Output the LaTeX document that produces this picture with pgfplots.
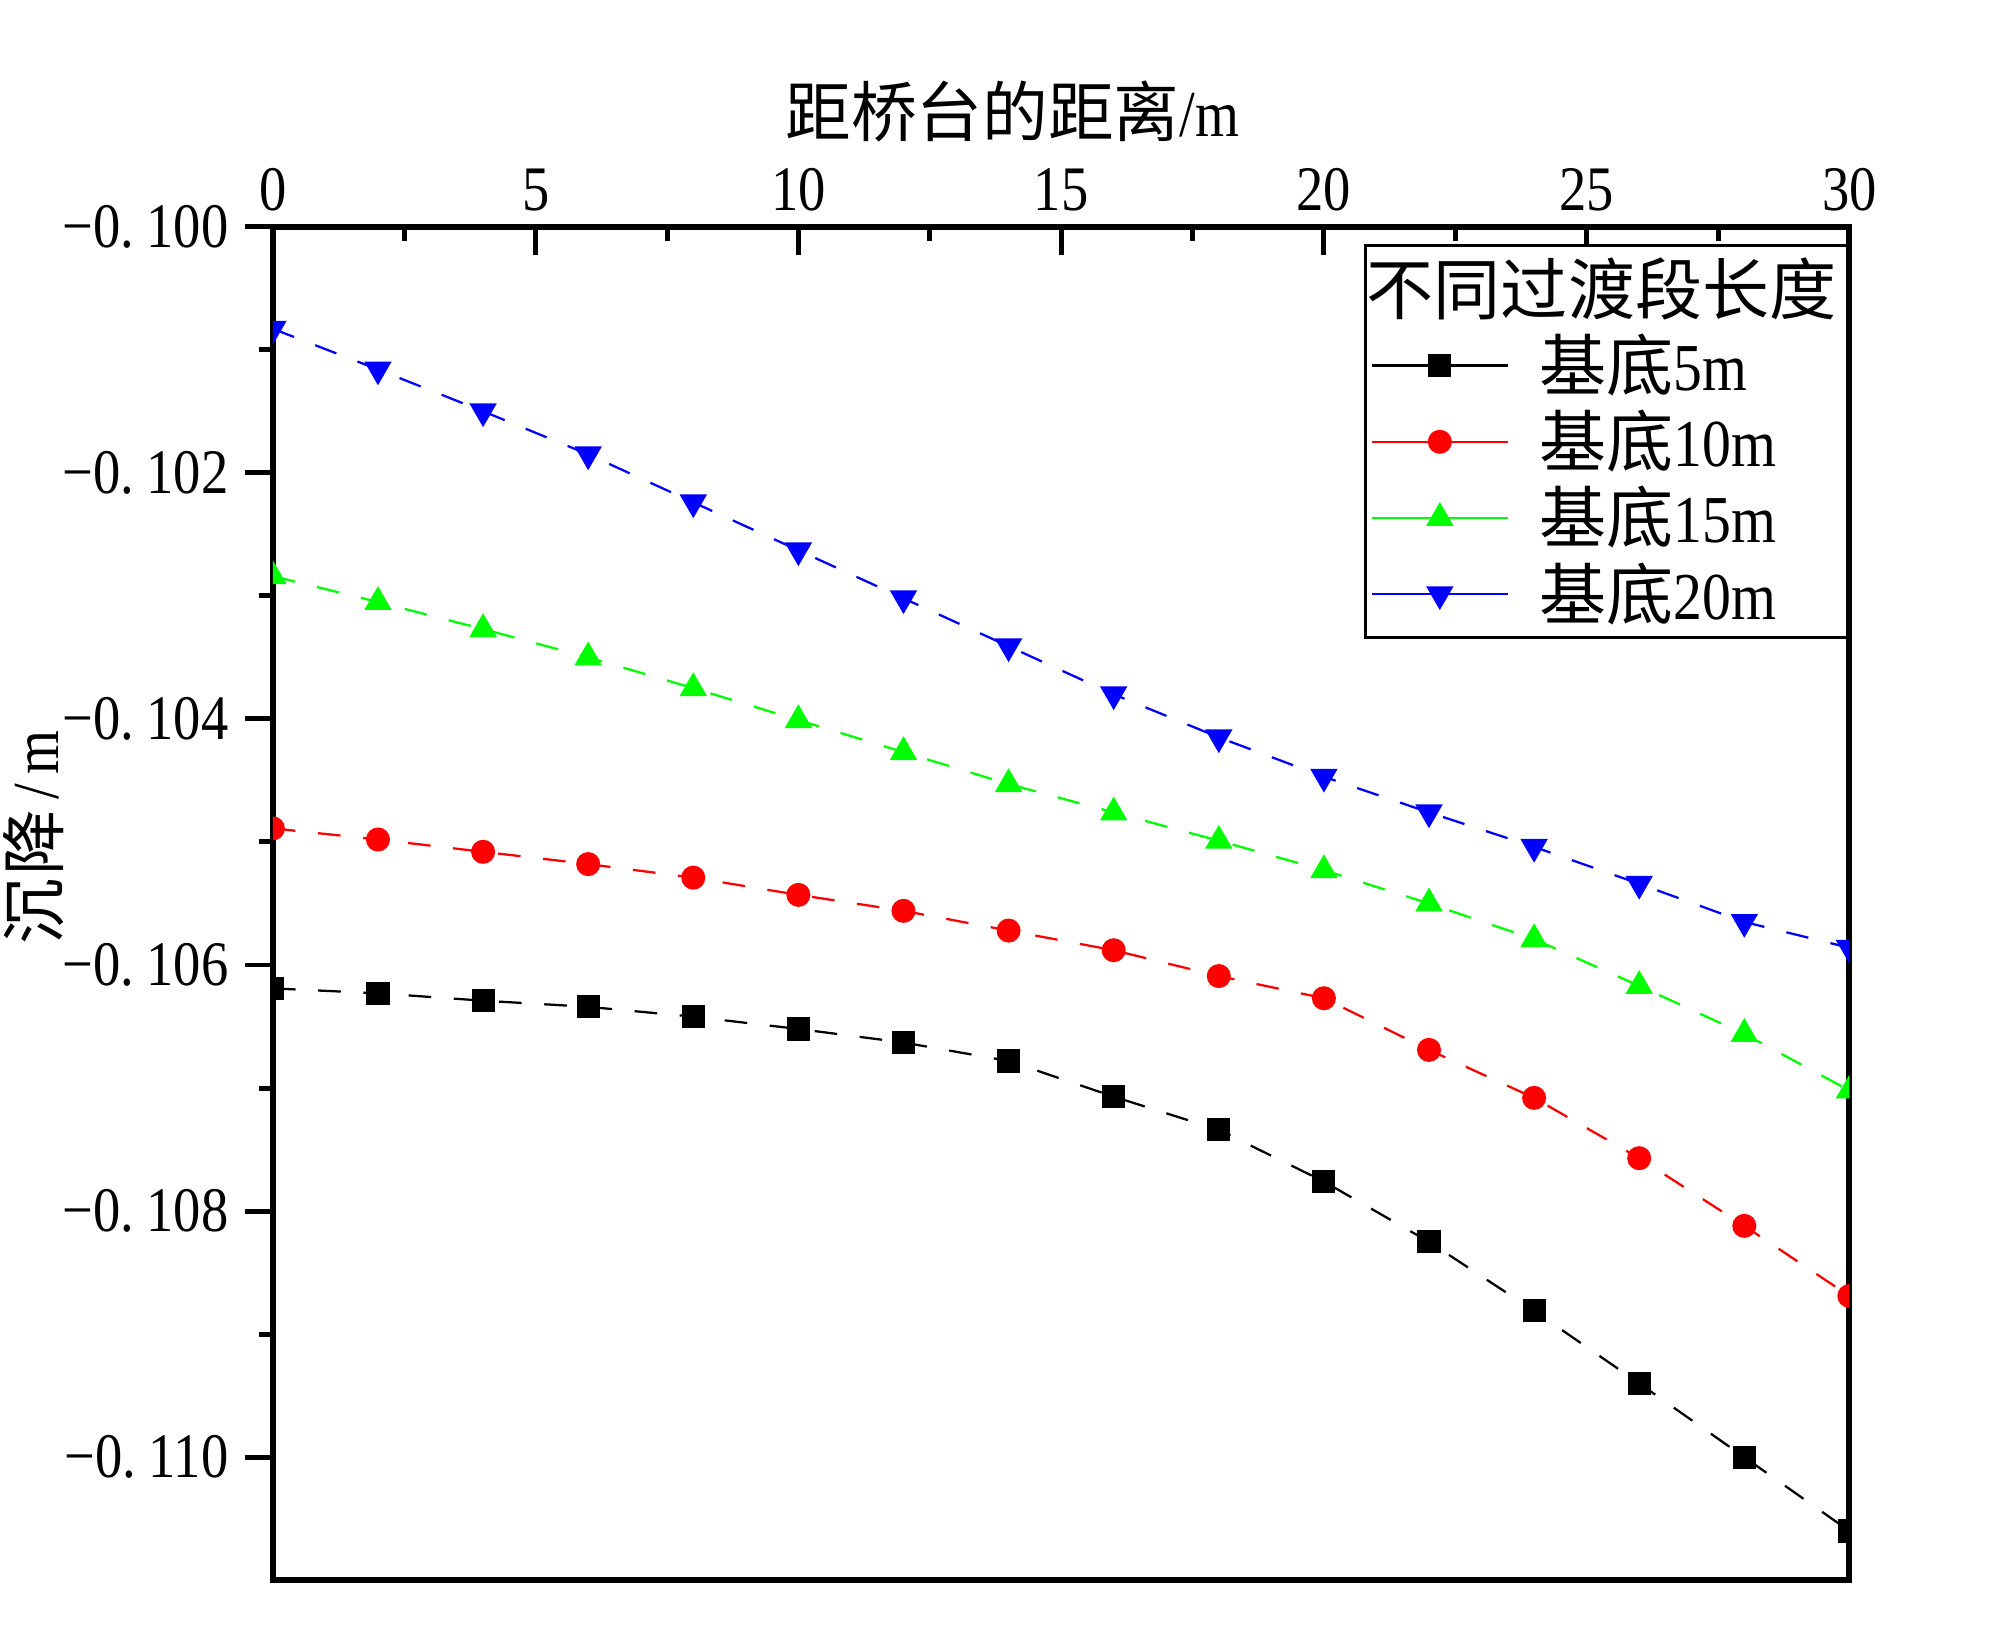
\documentclass[border=0pt]{standalone}
\usepackage{fontspec}
\setmainfont[FakeStretch=0.86]{Liberation Serif}
\newfontfamily\cjk{Noto Sans CJK SC}
\usepackage{pgfplots}
\pgfplotsset{compat=1.18}
\newcommand{\yl}[1]{−0.\hspace{0.2em}#1}
\begin{document}
\begin{tikzpicture}
\useasboundingbox (-2.117cm,-0.547cm) rectangle (13.398cm,12.259cm);
\begin{axis}[
  at={(0,0)}, anchor=south west,
  scale only axis, width=12.23cm, height=10.50cm,
  xmin=0, xmax=30, ymin=-0.111, ymax=-0.100,
  xtick={0,5,...,30}, minor x tick num=1,
  ytick={-0.110,-0.108,-0.106,-0.104,-0.102,-0.100},
  yticklabels={\yl{110},\yl{108},\yl{106},\yl{104},\yl{102},\yl{100}},
  minor y tick num=1,
  scaled y ticks=false,
  xtick pos=right, xticklabel pos=right, ytick pos=left,
  xtick align=inside, ytick align=outside,
  major tick length=0.22cm, minor tick length=0.11cm,
  axis line style={line width=1.3pt},
  tick style={line width=1.1pt, black},
  /pgf/number format/assume math mode=true,
  tick label style={font=\fontsize{14}{16}\selectfont},
  xlabel={{\cjk 距桥台的距离}/m},
  ylabel={{\cjk 沉\hspace{0.05em}降}\hspace{0.15em}/\hspace{0.15em}m},
  label style={font=\fontsize{14.5}{17}\selectfont},
  xlabel style={at={(axis description cs:0.469,1.085)}, anchor=center},
  ylabel style={at={(axis description cs:-0.152,0.549)}, anchor=center},
  clip marker paths=true,
  legend image code/.code={\draw[mark repeat=2,mark phase=2,#1,solid] plot coordinates {(0cm,0cm) (0.525cm,0cm) (1.05cm,0cm)};},
  legend style={at={(1,0.987)}, anchor=north east, draw=black, line width=0.7pt,
    font=\fontsize{14.8}{17}\selectfont, cells={anchor=west},
    nodes={inner sep=0.05cm}, row sep=0cm, inner sep=0.04cm,
    /tikz/every odd column/.append style={column sep=0.19cm}},
  every axis plot/.append style={line width=0.5pt, dash pattern=on 5pt off 5pt},
]
\addlegendimage{empty legend}
\addlegendentry{\hspace*{-1.34cm}{\cjk 不同过渡段长度}}
\addplot[black, mark=square*, mark size=2.3pt, mark options={solid}] coordinates {
(0,-0.10619) (2,-0.10623) (4,-0.10629) (6,-0.10634) (8,-0.10642) (10,-0.10652) (12,-0.10663) (14,-0.10678)
(16,-0.10707) (18,-0.10734) (20,-0.10776) (22,-0.10825) (24,-0.10881) (26,-0.10940) (28,-0.11000) (30,-0.11060)};
\addlegendentry{{\cjk 基底}5m}
\addplot[red, mark=*, mark size=2.4pt, mark options={solid}] coordinates {
(0,-0.10489) (2,-0.10498) (4,-0.10508) (6,-0.10518) (8,-0.10529) (10,-0.10543) (12,-0.10556) (14,-0.10572)
(16,-0.10588) (18,-0.10609) (20,-0.10627) (22,-0.10669) (24,-0.10708) (26,-0.10757) (28,-0.10812) (30,-0.10869)};
\addlegendentry{{\cjk 基底}10m}
\addplot[green, mark=triangle*, mark size=3pt, mark options={solid}] coordinates {
(0,-0.10284) (2,-0.10305) (4,-0.10327) (6,-0.10350) (8,-0.10375) (10,-0.10401) (12,-0.10427) (14,-0.10453)
(16,-0.10476) (18,-0.10499) (20,-0.10523) (22,-0.10550) (24,-0.10579) (26,-0.10617) (28,-0.10656) (30,-0.10702)};
\addlegendentry{{\cjk 基底}15m}
\addplot[blue, mark=triangle*, mark size=3pt, mark options={solid, rotate=180}] coordinates {
(0,-0.10083) (2,-0.10116) (4,-0.10150) (6,-0.10185) (8,-0.10224) (10,-0.10263) (12,-0.10302) (14,-0.10341)
(16,-0.10380) (18,-0.10415) (20,-0.10447) (22,-0.10476) (24,-0.10504) (26,-0.10534) (28,-0.10565) (30,-0.10586)};
\addlegendentry{{\cjk 基底}20m}
\end{axis}
\end{tikzpicture}
\end{document}
